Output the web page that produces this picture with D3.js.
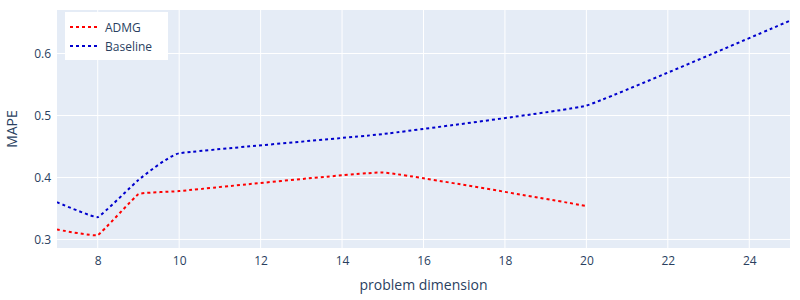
<!DOCTYPE html>
<html>
<head>
    <meta charset="utf-8">
    <script src="https://d3js.org/d3.v7.min.js"></script>
    <style>
        body { margin: 0; background: #fff; }
        text { font-family: "Open Sans", verdana, arial, sans-serif; fill: #2a3f5f; }
    </style>
</head>
<body>
<script>

    var admgX = [7, 8, 9, 10, 15, 20];
    var admgY = [0.316, 0.307, 0.373, 0.378, 0.408, 0.354];
    var baseX = [7, 8, 9, 10, 15, 20, 25];
    var baseY = [0.360, 0.336, 0.396, 0.439, 0.470, 0.516, 0.653];
    var xTicks = [8, 10, 12, 14, 16, 18, 20, 22, 24];
    var yTicks = [0.3, 0.4, 0.5, 0.6];
    var seriesNames = ['ADMG', 'Baseline'];
    var seriesColors = ['red', 'mediumblue'];

    var width = 800, height = 300;
    // note: "top" is reserved on window, so use plot* names
    var plotL = 57, plotR = 790, plotT = 10, plotB = 248;

    var xScale = d3.scaleLinear().domain([7, 25]).range([plotL, plotR]);
    var yScale = d3.scaleLinear().domain([0.2862, 0.6702]).range([plotB, plotT]);

    var svg = d3.select('body').append('svg')
        .attr('width', width)
        .attr('height', height);

    svg.append('rect')
        .attr('x', plotL).attr('y', plotT)
        .attr('width', plotR - plotL).attr('height', plotB - plotT)
        .attr('fill', '#e5ecf6');

    svg.append('g').selectAll('line').data(xTicks)
        .enter().append('line')
        .attr('x1', function(d) {return xScale(d)})
        .attr('x2', function(d) {return xScale(d)})
        .attr('y1', plotT).attr('y2', plotB)
        .attr('stroke', '#fff').attr('stroke-width', 1);

    svg.append('g').selectAll('line').data(yTicks)
        .enter().append('line')
        .attr('y1', function(d) {return yScale(d)})
        .attr('y2', function(d) {return yScale(d)})
        .attr('x1', plotL).attr('x2', plotR)
        .attr('stroke', '#fff').attr('stroke-width', 1);

    var xAxis = d3.axisBottom(xScale).tickValues(xTicks).tickSize(0).tickPadding(8).tickFormat(d3.format('d'));
    var gX = svg.append('g').attr('transform', 'translate(0,' + plotB + ')').call(xAxis);
    var yAxis = d3.axisLeft(yScale).tickValues(yTicks).tickSize(0).tickPadding(6).tickFormat(d3.format('.1f'));
    var gY = svg.append('g').attr('transform', 'translate(' + plotL + ',0)').call(yAxis);
    [gX, gY].forEach(function(g) {
        g.select('.domain').remove();
        g.selectAll('text').style('font-size', '12px').attr('fill', '#2a3f5f')
            .style('font-family', '"Open Sans", verdana, arial, sans-serif');
    });

    svg.append('clipPath').attr('id', 'plotclip')
        .append('rect').attr('x', plotL).attr('y', plotT)
        .attr('width', plotR - plotL).attr('height', plotB - plotT);

    var line = d3.line()
        .x(function(d) {return xScale(d[0])})
        .y(function(d) {return yScale(d[1])})
        .curve(d3.curveCardinal.tension(0.75));

    var series = [d3.zip(admgX, admgY), d3.zip(baseX, baseY)];

    svg.append('g').attr('clip-path', 'url(#plotclip)')
        .selectAll('path').data(series)
        .enter().append('path')
        .attr('d', line)
        .attr('fill', 'none')
        .attr('stroke', function(d, i) {return seriesColors[i]})
        .attr('stroke-width', 2)
        .attr('stroke-dasharray', '3,3');

    // axis titles
    svg.append('text')
        .attr('x', (plotL + plotR) / 2).attr('y', 290)
        .attr('text-anchor', 'middle')
        .style('font-size', '14px')
        .text('problem dimension');

    svg.append('text')
        .attr('transform', 'translate(17,' + ((plotT + plotB) / 2) + ') rotate(-90)')
        .attr('text-anchor', 'middle')
        .style('font-size', '14px')
        .text('MAPE');

    // legend
    var legend = svg.append('g');
    legend.append('rect')
        .attr('x', 65).attr('y', 12)
        .attr('width', 103).attr('height', 48)
        .attr('fill', '#fff');
    var items = legend.selectAll('g').data(seriesNames)
        .enter().append('g')
        .attr('transform', function(d, i) {return 'translate(65,' + (27 + i * 19) + ')'});
    items.append('line')
        .attr('x1', 5).attr('x2', 35).attr('y1', 0).attr('y2', 0)
        .attr('stroke', function(d, i) {return seriesColors[i]})
        .attr('stroke-width', 2)
        .attr('stroke-dasharray', '3,3');
    items.append('text')
        .attr('x', 40).attr('y', 4.5)
        .style('font-size', '12px')
        .text(function(d) {return d});

</script>
</body>
</html>
